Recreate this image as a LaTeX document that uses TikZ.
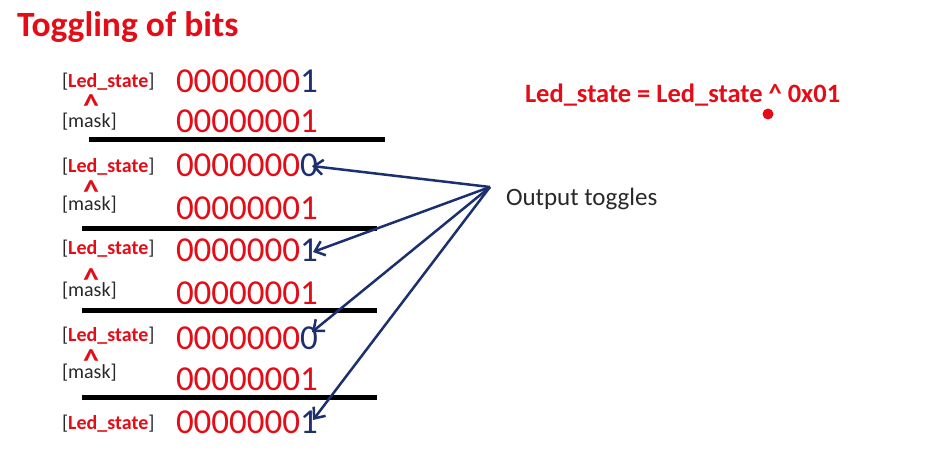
\documentclass[tikz,border=0pt]{standalone}
\usepackage{fontspec}
\setmainfont{Carlito}
\usetikzlibrary{arrows.meta}
\definecolor{tred}{RGB}{228,12,22}
\definecolor{tnavy}{RGB}{28,48,112}
\definecolor{tgray}{RGB}{40,40,40}
\begin{document}
\begin{tikzpicture}[x=1pt,y=-1pt,
  every node/.style={inner sep=0pt, outer sep=0pt, anchor=base west},
  titletext/.style={font=\fontsize{35.5}{35.5}\selectfont\bfseries, text=tred},
  bits/.style={font=\fontsize{35}{35}\selectfont, text=tred},
  lbl/.style={font=\fontsize{20}{20}\selectfont, text=tgray},
  caret/.style={font=\fontsize{32}{32}\selectfont\bfseries, text=tred, anchor=base},
  formula/.style={font=\fontsize{26.5}{26.5}\selectfont\bfseries, text=tred},
  note/.style={font=\fontsize{25}{25}\selectfont, text=tgray},
  sumrule/.style={line width=5pt, black},
  arr/.style={tnavy, line width=2.5pt, -{Straight Barb[length=9pt,width=15pt]}},
]
\useasboundingbox (0,0) rectangle (936,464);

\node[titletext] (title) at (17,36) {Toggling of bits};

% row labels
\node[lbl] (ls1) at (62,87)  {[\textcolor{tred}{\bfseries Led\_state}]};
\node[lbl] (mk1) at (62,127) {[mask]};
\node[lbl] (ls2) at (62,172) {[\textcolor{tred}{\bfseries Led\_state}]};
\node[lbl] (mk2) at (62,210) {[mask]};
\node[lbl] (ls3) at (62,254) {[\textcolor{tred}{\bfseries Led\_state}]};
\node[lbl] (mk3) at (62,296) {[mask]};
\node[lbl] (ls4) at (62,341) {[\textcolor{tred}{\bfseries Led\_state}]};
\node[lbl] (mk4) at (62,378) {[mask]};
\node[lbl] (ls5) at (62,429) {[\textcolor{tred}{\bfseries Led\_state}]};

% carets (box trimmed to the glyph)
\newcommand{\caretglyph}{\raisebox{-12pt}[8.5pt][0pt]{\textasciicircum}}
\node[caret] (c1) at (91,104) {\caretglyph};
\node[caret] (c2) at (91,190) {\caretglyph};
\node[caret] (c3) at (91,278) {\caretglyph};
\node[caret] (c4) at (91,359) {\caretglyph};

% bit values
\node[bits] (b1) at (176,92)  {0000000\textcolor{tnavy}{1}};
\node[bits] (m1) at (176,132) {00000001};
\node[bits] (b2) at (176,176) {0000000\textcolor{tnavy}{0}};
\node[bits] (m2) at (176,219) {00000001};
\node[bits] (b3) at (176,261) {0000000\textcolor{tnavy}{1}};
\node[bits] (m3) at (176,304) {00000001};
\node[bits] (b4) at (176,349) {0000000\textcolor{tnavy}{0}};
\node[bits] (m4) at (176,390) {00000001};
\node[bits] (b5) at (176,433) {0000000\textcolor{tnavy}{1}};

% result rules
\draw[sumrule] (89,139) -- (385,139);
\draw[sumrule] (82,228) -- (377,228);
\draw[sumrule] (82,310) -- (377,310);
\draw[sumrule] (82,397) -- (377,397);

% formula
\node[formula] (eq) at (525,102) {Led\_state = Led\_state \textasciicircum{} 0x01};
\fill[tred] (768,114) circle (5.5);

% output toggles
\node[note] (out) at (506,205) {Output toggles};
\coordinate (src) at (490,187);
\coordinate (t1) at (312,166);
\coordinate (t2) at (313,252);
\coordinate (t3) at (312,332);
\coordinate (t4) at (313,420);
\draw[arr] (src) -- (t1);
\draw[arr] (src) -- (t2);
\draw[arr] (src) -- (t3);
\draw[arr] (src) -- (t4);
\end{tikzpicture}
\end{document}
